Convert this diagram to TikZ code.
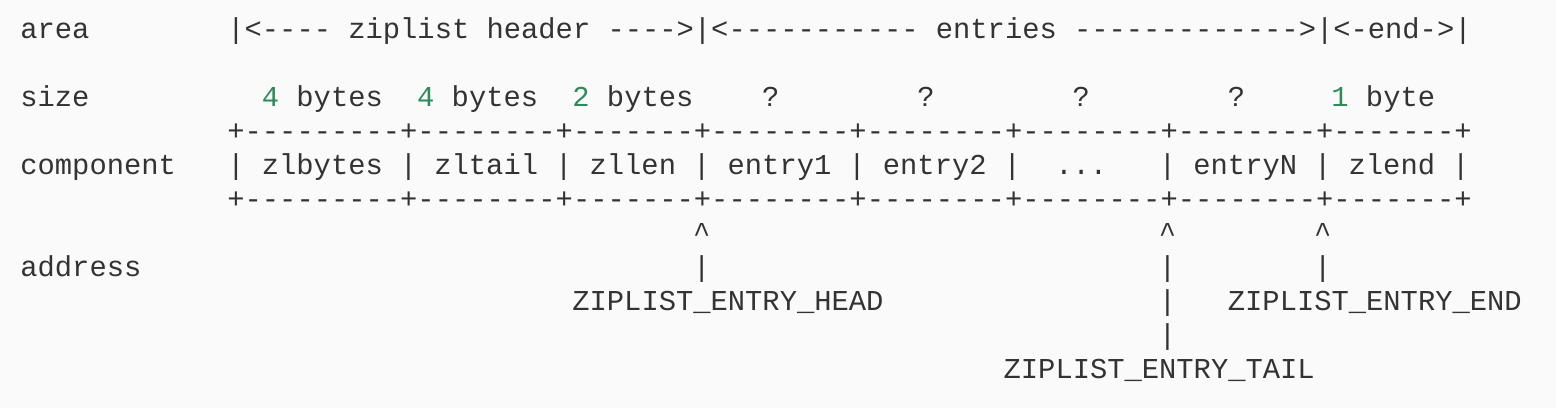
\documentclass[tikz,border=0pt]{standalone}
\usepackage{fontspec}
\setmonofont{Liberation Mono}
\definecolor{txt}{HTML}{333333}
\definecolor{grn}{HTML}{2E8B57}
\definecolor{bg}{HTML}{FAFAFA}
\newcommand{\gr}[1]{\textcolor{grn}{#1}}
\newcommand{\T}[3]{\node[cell] (n#2-#1) at ({10pt+#1*8.625pt},{-(32+34*#2+6)/2*1pt}) {#3};}
\begin{document}
\begin{tikzpicture}[cell/.style={anchor=base west,inner sep=0pt,text=txt,font=\ttfamily\fontsize{14.4pt}{16pt}\selectfont}]
\fill[bg] (0,0) rectangle (778pt,-204pt);
\useasboundingbox (0,0) rectangle (778pt,-204pt);
\T{0}{0}{area}
\T{12}{0}{|<---- ziplist header ---->|<----------- entries ------------->|<-end->|}
\T{0}{2}{size}
\T{14}{2}{\gr{4} bytes}
\T{23}{2}{\gr{4} bytes}
\T{32}{2}{\gr{2} bytes}
\T{43}{2}{?}
\T{52}{2}{?}
\T{61}{2}{?}
\T{70}{2}{?}
\T{76}{2}{\gr{1} byte}
\T{12}{3}{+---------+--------+-------+--------+--------+--------+--------+-------+}
\T{0}{4}{component}
\foreach \c in {12,22,31,39,48,57,66,75,83}{\T{\c}{4}{|}}
\T{14}{4}{zlbytes}
\T{24}{4}{zltail}
\T{33}{4}{zllen}
\T{41}{4}{entry1}
\T{50}{4}{entry2}
\T{60}{4}{...}
\T{68}{4}{entryN}
\T{77}{4}{zlend}
\T{12}{5}{+---------+--------+-------+--------+--------+--------+--------+-------+}
\foreach \c in {39,66,75}{\T{\c}{6}{\^{}}}
\T{0}{7}{address}
\foreach \c in {39,66,75}{\T{\c}{7}{|}}
\T{32}{8}{ZIPLIST\_ENTRY\_HEAD}
\T{66}{8}{|}
\T{70}{8}{ZIPLIST\_ENTRY\_END}
\T{66}{9}{|}
\T{57}{10}{ZIPLIST\_ENTRY\_TAIL}
\end{tikzpicture}
\end{document}
